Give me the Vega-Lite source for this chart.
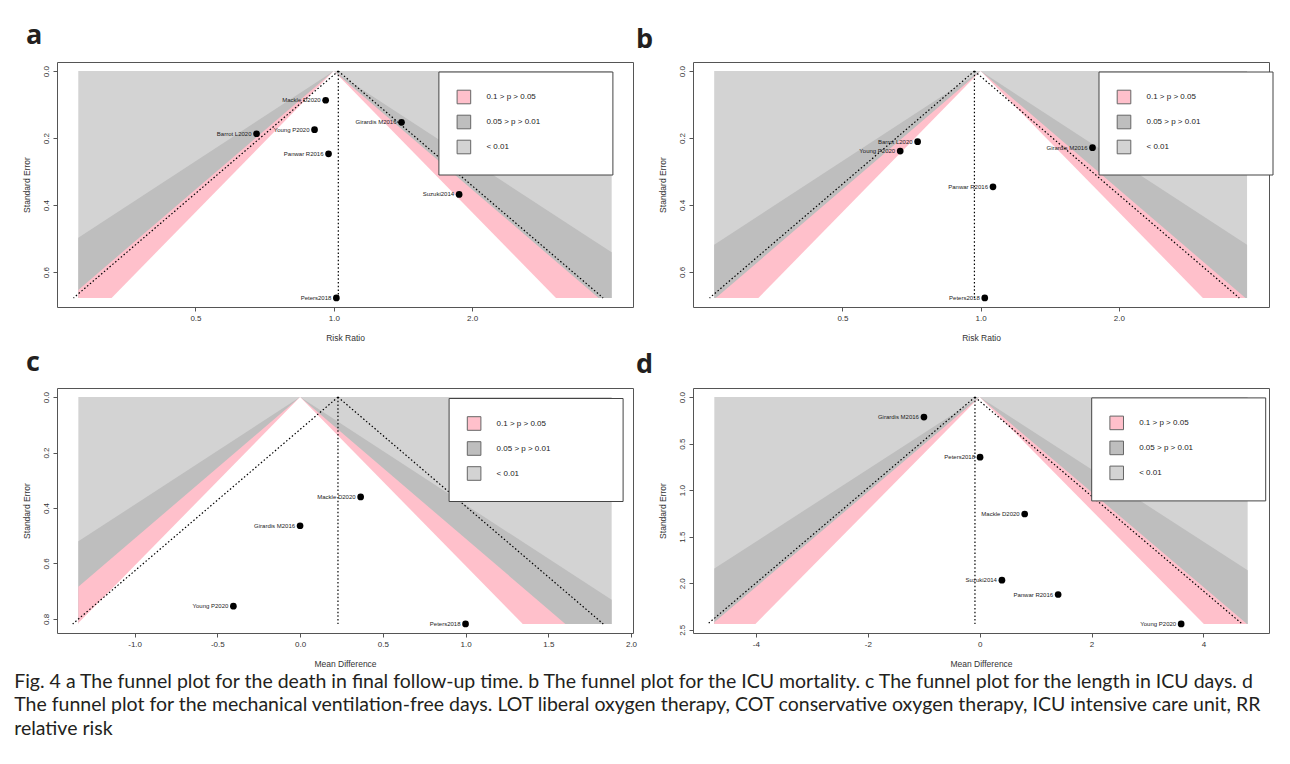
{
 "$schema": "https://vega.github.io/schema/vega-lite/v6.json",
 "padding": {"left": 14, "top": 21, "right": 10, "bottom": 10},
 "background": "white",
 "title": {"text": ["Fig. 4  a The funnel plot for the death in final follow-up time. b The funnel plot for the ICU mortality. c The funnel plot for the length in ICU days. d", "The funnel plot for the mechanical ventilation-free days. LOT liberal oxygen therapy, COT conservative oxygen therapy, ICU intensive care unit, RR", "relative risk"], "orient": "bottom", "anchor": "start", "frame": "bounds", "dx": -8, "offset": 4, "font": "Lato", "fontSize": 19.5, "fontWeight": "normal", "lineHeight": 23.5, "color": "#231f20", "baseline": "top"},
 "datasets": {
  "bands_a": [
   {"band": "< 0.01", "se": 0, "lo": 0.2779, "hi": 4.025},
   {"band": "< 0.01", "se": 0.677, "lo": 0.2779, "hi": 4.025},
   {"band": "0.05 > p > 0.01", "se": 0, "lo": 1, "hi": 1},
   {"band": "0.05 > p > 0.01", "se": 0.4971, "lo": 0.2779, "hi": 3.598},
   {"band": "0.05 > p > 0.01", "se": 0.5406, "lo": 0.2779, "hi": 4.025},
   {"band": "0.05 > p > 0.01", "se": 0.677, "lo": 0.2779, "hi": 4.025},
   {"band": "0.1 > p > 0.05", "se": 0, "lo": 1, "hi": 1},
   {"band": "0.1 > p > 0.05", "se": 0.6532, "lo": 0.2779, "hi": 3.598},
   {"band": "0.1 > p > 0.05", "se": 0.677, "lo": 0.2779, "hi": 3.769},
   {"band": "p > 0.1", "se": 0, "lo": 1, "hi": 1},
   {"band": "p > 0.1", "se": 0.677, "lo": 0.3284, "hi": 3.045}
  ],
  "lines_a": [
   {"x": 1.0229, "y": 0, "x2": 1.0229, "y2": 0.677},
   {"x": 1.0229, "y": 0, "x2": 0.2714, "y2": 0.677},
   {"x": 1.0229, "y": 0, "x2": 3.856, "y2": 0.677}
  ],
  "pts_a": [
   {"study": "Mackle D2020", "est": 0.960, "se": 0.087},
   {"study": "Girardis M2016", "est": 1.404, "se": 0.153},
   {"study": "Young P2020", "est": 0.908, "se": 0.175},
   {"study": "Barrot L2020", "est": 0.679, "se": 0.187},
   {"study": "Panwar R2016", "est": 0.974, "se": 0.247},
   {"study": "Suzuki2014", "est": 1.874, "se": 0.368},
   {"study": "Peters2018", "est": 1.013, "se": 0.677}
  ],
  "bands_b": [
   {"band": "< 0.01", "se": 0, "lo": 0.2627, "hi": 3.807},
   {"band": "< 0.01", "se": 0.678, "lo": 0.2627, "hi": 3.807},
   {"band": "0.05 > p > 0.01", "se": 0, "lo": 1, "hi": 1},
   {"band": "0.05 > p > 0.01", "se": 0.519, "lo": 0.2627, "hi": 3.807},
   {"band": "0.05 > p > 0.01", "se": 0.678, "lo": 0.2627, "hi": 3.807},
   {"band": "0.1 > p > 0.05", "se": 0, "lo": 1, "hi": 1},
   {"band": "0.1 > p > 0.05", "se": 0.678, "lo": 0.2648, "hi": 3.777},
   {"band": "p > 0.1", "se": 0, "lo": 1, "hi": 1},
   {"band": "p > 0.1", "se": 0.678, "lo": 0.3279, "hi": 3.05}
  ],
  "lines_b": [
   {"x": 0.9694, "y": 0, "x2": 0.9694, "y2": 0.678},
   {"x": 0.9694, "y": 0, "x2": 0.2567, "y2": 0.678},
   {"x": 0.9694, "y": 0, "x2": 3.661, "y2": 0.678}
  ],
  "pts_b": [
   {"study": "Barrot L2020", "est": 0.729, "se": 0.211},
   {"study": "Young P2020", "est": 0.668, "se": 0.239},
   {"study": "Panwar R2016", "est": 1.064, "se": 0.346},
   {"study": "Peters2018", "est": 1.021, "se": 0.678},
   {"study": "Girardis M2016", "est": 1.753, "se": 0.229}
  ],
  "bands_c": [
   {"band": "< 0.01", "se": 0, "lo": -1.34, "hi": 1.883},
   {"band": "< 0.01", "se": 0.818, "lo": -1.34, "hi": 1.883},
   {"band": "0.05 > p > 0.01", "se": 0, "lo": 0, "hi": 0},
   {"band": "0.05 > p > 0.01", "se": 0.5202, "lo": -1.34, "hi": 1.34},
   {"band": "0.05 > p > 0.01", "se": 0.731, "lo": -1.34, "hi": 1.883},
   {"band": "0.05 > p > 0.01", "se": 0.818, "lo": -1.34, "hi": 1.883},
   {"band": "0.1 > p > 0.05", "se": 0, "lo": 0, "hi": 0},
   {"band": "0.1 > p > 0.05", "se": 0.6837, "lo": -1.34, "hi": 1.34},
   {"band": "0.1 > p > 0.05", "se": 0.818, "lo": -1.34, "hi": 1.6033},
   {"band": "p > 0.1", "se": 0, "lo": 0, "hi": 0},
   {"band": "p > 0.1", "se": 0.8146, "lo": -1.34, "hi": 1.34},
   {"band": "p > 0.1", "se": 0.818, "lo": -1.34, "hi": 1.3455}
  ],
  "lines_c": [
   {"x": 0.229, "y": 0, "x2": 0.229, "y2": 0.818},
   {"x": 0.229, "y": 0, "x2": -1.3743, "y2": 0.818},
   {"x": 0.229, "y": 0, "x2": 1.8323, "y2": 0.818}
  ],
  "pts_c": [
   {"study": "Mackle D2020", "est": 0.366, "se": 0.36},
   {"study": "Girardis M2016", "est": 0.0, "se": 0.464},
   {"study": "Young P2020", "est": -0.403, "se": 0.754},
   {"study": "Peters2018", "est": 1.0, "se": 0.818}
  ],
  "bands_d": [
   {"band": "< 0.01", "se": 0, "lo": -4.743, "hi": 4.791},
   {"band": "< 0.01", "se": 2.437, "lo": -4.743, "hi": 4.791},
   {"band": "0.05 > p > 0.01", "se": 0, "lo": 0, "hi": 0},
   {"band": "0.05 > p > 0.01", "se": 1.8414, "lo": -4.743, "hi": 4.743},
   {"band": "0.05 > p > 0.01", "se": 1.86, "lo": -4.743, "hi": 4.791},
   {"band": "0.05 > p > 0.01", "se": 2.437, "lo": -4.743, "hi": 4.791},
   {"band": "0.1 > p > 0.05", "se": 0, "lo": 0, "hi": 0},
   {"band": "0.1 > p > 0.05", "se": 2.42, "lo": -4.743, "hi": 4.743},
   {"band": "0.1 > p > 0.05", "se": 2.437, "lo": -4.743, "hi": 4.7765},
   {"band": "p > 0.1", "se": 0, "lo": 0, "hi": 0},
   {"band": "p > 0.1", "se": 2.437, "lo": -4.0086, "hi": 4.0086}
  ],
  "lines_d": [
   {"x": -0.084, "y": 0, "x2": -0.084, "y2": 2.437},
   {"x": -0.084, "y": 0, "x2": -4.8605, "y2": 2.437},
   {"x": -0.084, "y": 0, "x2": 4.6925, "y2": 2.437}
  ],
  "pts_d": [
   {"study": "Girardis M2016", "est": -0.996, "se": 0.215},
   {"study": "Peters2018", "est": 0.007, "se": 0.646},
   {"study": "Mackle D2020", "est": 0.805, "se": 1.256},
   {"study": "Suzuki2014", "est": 0.398, "se": 1.967},
   {"study": "Panwar R2016", "est": 1.403, "se": 2.121},
   {"study": "Young P2020", "est": 3.602, "se": 2.437}
  ]
 },
 "columns": 2,
 "spacing": {"row": 81, "column": 60},
 "bounds": "flush",
 "resolve": {"scale": {"fill": "independent"}, "legend": {"fill": "independent"}},
 "concat": [
    {
     "width": 576, "height": 245,
     "title": {"text": "a", "anchor": "start", "frame": "group", "dx": -31, "offset": -8.5, "baseline": "alphabetic", "font": "Open Sans", "fontSize": 27, "fontWeight": "bold", "color": "#231f20"},
     "layer": [
      {"data": {"name": "bands_a"}, "transform": [{"filter": "datum.band === '< 0.01'"}], "mark": {"type": "area", "orient": "horizontal", "opacity": 1},
       "encoding": {
        "y": {"field": "se", "type": "quantitative", "scale": {"domain": [-0.0271, 0.7041], "reverse": true, "nice": false, "zero": false}, "axis": {"title": "Standard Error", "values": [0, 0.1, 0.2, 0.3, 0.4, 0.5, 0.6, 0.7], "format": ".1f"}},
        "x": {"field": "lo", "type": "quantitative", "scale": {"type": "log", "domain": [0.2498, 4.479], "nice": false}, "axis": {"title": "Risk Ratio", "values": [0.5, 1, 2], "format": ".1f"}},
        "x2": {"field": "hi"},
        "fill": {"field": "band", "type": "nominal", "scale": {"domain": ["0.1 > p > 0.05", "0.05 > p > 0.01", "< 0.01"], "range": ["#FFC0CB", "#BEBEBE", "#D3D3D3"]},
         "legend": {"orient": "none", "legendX": 381.4, "legendY": 9.5, "title": null, "symbolType": "square", "symbolSize": 185, "symbolStrokeColor": "#666", "symbolStrokeWidth": 1, "symbolOpacity": 1, "labelFontSize": 8, "labelOffset": 15, "rowPadding": 6, "padding": 18, "strokeColor": "#444", "fillColor": "white", "labelColor": "#222", "labelExpr": "datum.label + '\u00a0\u00a0\u00a0\u00a0\u00a0\u00a0\u00a0\u00a0\u00a0\u00a0\u00a0\u00a0\u00a0\u00a0\u00a0\u00a0\u00a0\u00a0\u00a0\u00a0\u00a0\u00a0\u00a0\u00a0\u200b'"}}
       }},
      {"data": {"name": "bands_a"}, "transform": [{"filter": "datum.band === '0.05 > p > 0.01'"}], "mark": {"type": "area", "orient": "horizontal", "opacity": 1},
       "encoding": {"y": {"field": "se", "type": "quantitative", "scale": {"domain": [-0.0271, 0.7041], "reverse": true, "nice": false, "zero": false}}, "x": {"field": "lo", "type": "quantitative", "scale": {"type": "log", "domain": [0.2498, 4.479], "nice": false}}, "x2": {"field": "hi"}, "fill": {"field": "band", "type": "nominal"}}},
      {"data": {"name": "bands_a"}, "transform": [{"filter": "datum.band === '0.1 > p > 0.05'"}], "mark": {"type": "area", "orient": "horizontal", "opacity": 1},
       "encoding": {"y": {"field": "se", "type": "quantitative", "scale": {"domain": [-0.0271, 0.7041], "reverse": true, "nice": false, "zero": false}}, "x": {"field": "lo", "type": "quantitative", "scale": {"type": "log", "domain": [0.2498, 4.479], "nice": false}}, "x2": {"field": "hi"}, "fill": {"field": "band", "type": "nominal"}}},
      {"data": {"name": "bands_a"}, "transform": [{"filter": "datum.band === 'p > 0.1'"}], "mark": {"type": "area", "orient": "horizontal", "opacity": 1, "fill": "white"},
       "encoding": {"y": {"field": "se", "type": "quantitative", "scale": {"domain": [-0.0271, 0.7041], "reverse": true, "nice": false, "zero": false}}, "x": {"field": "lo", "type": "quantitative", "scale": {"type": "log", "domain": [0.2498, 4.479], "nice": false}}, "x2": {"field": "hi"}}},
      {"data": {"name": "lines_a"}, "mark": {"type": "rule", "strokeDash": [1.5, 2.2], "strokeWidth": 1.2, "color": "black"},
       "encoding": {"x": {"field": "x", "type": "quantitative", "scale": {"type": "log", "domain": [0.2498, 4.479], "nice": false}}, "y": {"field": "y", "type": "quantitative", "scale": {"domain": [-0.0271, 0.7041], "reverse": true, "nice": false, "zero": false}}, "x2": {"field": "x2"}, "y2": {"field": "y2"}}},
      {"data": {"name": "pts_a"}, "mark": {"type": "circle", "size": 45, "color": "black", "opacity": 1},
       "encoding": {"x": {"field": "est", "type": "quantitative", "scale": {"type": "log", "domain": [0.2498, 4.479], "nice": false}}, "y": {"field": "se", "type": "quantitative", "scale": {"domain": [-0.0271, 0.7041], "reverse": true, "nice": false, "zero": false}}}},
      {"data": {"name": "pts_a"}, "mark": {"type": "text", "align": "right", "baseline": "middle", "dx": -5, "fontSize": 6, "color": "#222"},
       "encoding": {"x": {"field": "est", "type": "quantitative", "scale": {"type": "log", "domain": [0.2498, 4.479], "nice": false}}, "y": {"field": "se", "type": "quantitative", "scale": {"domain": [-0.0271, 0.7041], "reverse": true, "nice": false, "zero": false}}, "text": {"field": "study"}}}
     ]
    },
    {
     "width": 576, "height": 245,
     "title": {"text": "b", "anchor": "start", "frame": "group", "dx": -57, "offset": -12.5, "baseline": "alphabetic", "font": "Open Sans", "fontSize": 27, "fontWeight": "bold", "color": "#231f20"},
     "layer": [
      {"data": {"name": "bands_b"}, "transform": [{"filter": "datum.band === '< 0.01'"}], "mark": {"type": "area", "orient": "horizontal", "opacity": 1},
       "encoding": {
        "y": {"field": "se", "type": "quantitative", "scale": {"domain": [-0.0271, 0.7051], "reverse": true, "nice": false, "zero": false}, "axis": {"title": "Standard Error", "values": [0, 0.1, 0.2, 0.3, 0.4, 0.5, 0.6, 0.7], "format": ".1f"}},
        "x": {"field": "lo", "type": "quantitative", "scale": {"type": "log", "domain": [0.2362, 4.25], "nice": false}, "axis": {"title": "Risk Ratio", "values": [0.5, 1, 2], "format": ".1f"}},
        "x2": {"field": "hi"},
        "fill": {"field": "band", "type": "nominal", "scale": {"domain": ["0.1 > p > 0.05", "0.05 > p > 0.01", "< 0.01"], "range": ["#FFC0CB", "#BEBEBE", "#D3D3D3"]},
         "legend": {"orient": "none", "legendX": 405.5, "legendY": 9.5, "title": null, "symbolType": "square", "symbolSize": 185, "symbolStrokeColor": "#666", "symbolStrokeWidth": 1, "symbolOpacity": 1, "labelFontSize": 8, "labelOffset": 15, "rowPadding": 6, "padding": 18, "strokeColor": "#444", "fillColor": "white", "labelColor": "#222", "labelExpr": "datum.label + '\u00a0\u00a0\u00a0\u00a0\u00a0\u00a0\u00a0\u00a0\u00a0\u00a0\u00a0\u00a0\u00a0\u00a0\u00a0\u00a0\u00a0\u00a0\u00a0\u00a0\u00a0\u00a0\u00a0\u00a0\u200b'"}}
       }},
      {"data": {"name": "bands_b"}, "transform": [{"filter": "datum.band === '0.05 > p > 0.01'"}], "mark": {"type": "area", "orient": "horizontal", "opacity": 1},
       "encoding": {"y": {"field": "se", "type": "quantitative", "scale": {"domain": [-0.0271, 0.7051], "reverse": true, "nice": false, "zero": false}}, "x": {"field": "lo", "type": "quantitative", "scale": {"type": "log", "domain": [0.2362, 4.25], "nice": false}}, "x2": {"field": "hi"}, "fill": {"field": "band", "type": "nominal"}}},
      {"data": {"name": "bands_b"}, "transform": [{"filter": "datum.band === '0.1 > p > 0.05'"}], "mark": {"type": "area", "orient": "horizontal", "opacity": 1},
       "encoding": {"y": {"field": "se", "type": "quantitative", "scale": {"domain": [-0.0271, 0.7051], "reverse": true, "nice": false, "zero": false}}, "x": {"field": "lo", "type": "quantitative", "scale": {"type": "log", "domain": [0.2362, 4.25], "nice": false}}, "x2": {"field": "hi"}, "fill": {"field": "band", "type": "nominal"}}},
      {"data": {"name": "bands_b"}, "transform": [{"filter": "datum.band === 'p > 0.1'"}], "mark": {"type": "area", "orient": "horizontal", "opacity": 1, "fill": "white"},
       "encoding": {"y": {"field": "se", "type": "quantitative", "scale": {"domain": [-0.0271, 0.7051], "reverse": true, "nice": false, "zero": false}}, "x": {"field": "lo", "type": "quantitative", "scale": {"type": "log", "domain": [0.2362, 4.25], "nice": false}}, "x2": {"field": "hi"}}},
      {"data": {"name": "lines_b"}, "mark": {"type": "rule", "strokeDash": [1.5, 2.2], "strokeWidth": 1.2, "color": "black"},
       "encoding": {"x": {"field": "x", "type": "quantitative", "scale": {"type": "log", "domain": [0.2362, 4.25], "nice": false}}, "y": {"field": "y", "type": "quantitative", "scale": {"domain": [-0.0271, 0.7051], "reverse": true, "nice": false, "zero": false}}, "x2": {"field": "x2"}, "y2": {"field": "y2"}}},
      {"data": {"name": "pts_b"}, "mark": {"type": "circle", "size": 45, "color": "black", "opacity": 1},
       "encoding": {"x": {"field": "est", "type": "quantitative", "scale": {"type": "log", "domain": [0.2362, 4.25], "nice": false}}, "y": {"field": "se", "type": "quantitative", "scale": {"domain": [-0.0271, 0.7051], "reverse": true, "nice": false, "zero": false}}}},
      {"data": {"name": "pts_b"}, "mark": {"type": "text", "align": "right", "baseline": "middle", "dx": -5, "fontSize": 6, "color": "#222"},
       "encoding": {"x": {"field": "est", "type": "quantitative", "scale": {"type": "log", "domain": [0.2362, 4.25], "nice": false}}, "y": {"field": "se", "type": "quantitative", "scale": {"domain": [-0.0271, 0.7051], "reverse": true, "nice": false, "zero": false}}, "text": {"field": "study"}}}
     ]
    },
    {
     "width": 576, "height": 245,
     "title": {"text": "c", "anchor": "start", "frame": "group", "dx": -31, "offset": -9.7, "baseline": "alphabetic", "font": "Open Sans", "fontSize": 27, "fontWeight": "bold", "color": "#231f20"},
     "layer": [
      {"data": {"name": "bands_c"}, "transform": [{"filter": "datum.band === '< 0.01'"}], "mark": {"type": "area", "orient": "horizontal", "opacity": 1},
       "encoding": {
        "y": {"field": "se", "type": "quantitative", "scale": {"domain": [-0.0327, 0.8507], "reverse": true, "nice": false, "zero": false}, "axis": {"title": "Standard Error", "values": [0, 0.2, 0.4, 0.6, 0.8], "format": ".1f"}},
        "x": {"field": "lo", "type": "quantitative", "scale": {"domain": [-1.469, 2.012], "nice": false, "zero": false}, "axis": {"title": "Mean Difference", "values": [-1, -0.5, 0, 0.5, 1, 1.5, 2], "format": ".1f", "labelExpr": "replace(datum.label, '\u2212', '-')"}},
        "x2": {"field": "hi"},
        "fill": {"field": "band", "type": "nominal", "scale": {"domain": ["0.1 > p > 0.05", "0.05 > p > 0.01", "< 0.01"], "range": ["#FFC0CB", "#BEBEBE", "#D3D3D3"]},
         "legend": {"orient": "none", "legendX": 391.6, "legendY": 10, "title": null, "symbolType": "square", "symbolSize": 185, "symbolStrokeColor": "#666", "symbolStrokeWidth": 1, "symbolOpacity": 1, "labelFontSize": 8, "labelOffset": 15, "rowPadding": 6, "padding": 18, "strokeColor": "#444", "fillColor": "white", "labelColor": "#222", "labelExpr": "datum.label + '\u00a0\u00a0\u00a0\u00a0\u00a0\u00a0\u00a0\u00a0\u00a0\u00a0\u00a0\u00a0\u00a0\u00a0\u00a0\u00a0\u00a0\u00a0\u00a0\u00a0\u00a0\u00a0\u00a0\u00a0\u200b'"}}
       }},
      {"data": {"name": "bands_c"}, "transform": [{"filter": "datum.band === '0.05 > p > 0.01'"}], "mark": {"type": "area", "orient": "horizontal", "opacity": 1},
       "encoding": {"y": {"field": "se", "type": "quantitative", "scale": {"domain": [-0.0327, 0.8507], "reverse": true, "nice": false, "zero": false}}, "x": {"field": "lo", "type": "quantitative", "scale": {"domain": [-1.469, 2.012], "nice": false, "zero": false}}, "x2": {"field": "hi"}, "fill": {"field": "band", "type": "nominal"}}},
      {"data": {"name": "bands_c"}, "transform": [{"filter": "datum.band === '0.1 > p > 0.05'"}], "mark": {"type": "area", "orient": "horizontal", "opacity": 1},
       "encoding": {"y": {"field": "se", "type": "quantitative", "scale": {"domain": [-0.0327, 0.8507], "reverse": true, "nice": false, "zero": false}}, "x": {"field": "lo", "type": "quantitative", "scale": {"domain": [-1.469, 2.012], "nice": false, "zero": false}}, "x2": {"field": "hi"}, "fill": {"field": "band", "type": "nominal"}}},
      {"data": {"name": "bands_c"}, "transform": [{"filter": "datum.band === 'p > 0.1'"}], "mark": {"type": "area", "orient": "horizontal", "opacity": 1, "fill": "white"},
       "encoding": {"y": {"field": "se", "type": "quantitative", "scale": {"domain": [-0.0327, 0.8507], "reverse": true, "nice": false, "zero": false}}, "x": {"field": "lo", "type": "quantitative", "scale": {"domain": [-1.469, 2.012], "nice": false, "zero": false}}, "x2": {"field": "hi"}}},
      {"data": {"name": "lines_c"}, "mark": {"type": "rule", "strokeDash": [1.5, 2.2], "strokeWidth": 1.2, "color": "black"},
       "encoding": {"x": {"field": "x", "type": "quantitative", "scale": {"domain": [-1.469, 2.012], "nice": false, "zero": false}}, "y": {"field": "y", "type": "quantitative", "scale": {"domain": [-0.0327, 0.8507], "reverse": true, "nice": false, "zero": false}}, "x2": {"field": "x2"}, "y2": {"field": "y2"}}},
      {"data": {"name": "pts_c"}, "mark": {"type": "circle", "size": 45, "color": "black", "opacity": 1},
       "encoding": {"x": {"field": "est", "type": "quantitative", "scale": {"domain": [-1.469, 2.012], "nice": false, "zero": false}}, "y": {"field": "se", "type": "quantitative", "scale": {"domain": [-0.0327, 0.8507], "reverse": true, "nice": false, "zero": false}}}},
      {"data": {"name": "pts_c"}, "mark": {"type": "text", "align": "right", "baseline": "middle", "dx": -5, "fontSize": 6, "color": "#222"},
       "encoding": {"x": {"field": "est", "type": "quantitative", "scale": {"domain": [-1.469, 2.012], "nice": false, "zero": false}}, "y": {"field": "se", "type": "quantitative", "scale": {"domain": [-0.0327, 0.8507], "reverse": true, "nice": false, "zero": false}}, "text": {"field": "study"}}}
     ]
    },
    {
     "width": 576, "height": 245,
     "title": {"text": "d", "anchor": "start", "frame": "group", "dx": -57, "offset": -12, "baseline": "alphabetic", "font": "Open Sans", "fontSize": 27, "fontWeight": "bold", "color": "#231f20"},
     "layer": [
      {"data": {"name": "bands_d"}, "transform": [{"filter": "datum.band === '< 0.01'"}], "mark": {"type": "area", "orient": "horizontal", "opacity": 1},
       "encoding": {
        "y": {"field": "se", "type": "quantitative", "scale": {"domain": [-0.0975, 2.5345], "reverse": true, "nice": false, "zero": false}, "axis": {"title": "Standard Error", "values": [0, 0.5, 1, 1.5, 2, 2.5], "format": ".1f"}},
        "x": {"field": "lo", "type": "quantitative", "scale": {"domain": [-5.1244, 5.1724], "nice": false, "zero": false}, "axis": {"title": "Mean Difference", "values": [-4, -2, 0, 2, 4], "format": "d", "labelExpr": "replace(datum.label, '\u2212', '-')"}},
        "x2": {"field": "hi"},
        "fill": {"field": "band", "type": "nominal", "scale": {"domain": ["0.1 > p > 0.05", "0.05 > p > 0.01", "< 0.01"], "range": ["#FFC0CB", "#BEBEBE", "#D3D3D3"]},
         "legend": {"orient": "none", "legendX": 398.2, "legendY": 9.4, "title": null, "symbolType": "square", "symbolSize": 185, "symbolStrokeColor": "#666", "symbolStrokeWidth": 1, "symbolOpacity": 1, "labelFontSize": 8, "labelOffset": 15, "rowPadding": 6, "padding": 18, "strokeColor": "#444", "fillColor": "white", "labelColor": "#222", "labelExpr": "datum.label + '\u00a0\u00a0\u00a0\u00a0\u00a0\u00a0\u00a0\u00a0\u00a0\u00a0\u00a0\u00a0\u00a0\u00a0\u00a0\u00a0\u00a0\u00a0\u00a0\u00a0\u00a0\u00a0\u00a0\u00a0\u200b'"}}
       }},
      {"data": {"name": "bands_d"}, "transform": [{"filter": "datum.band === '0.05 > p > 0.01'"}], "mark": {"type": "area", "orient": "horizontal", "opacity": 1},
       "encoding": {"y": {"field": "se", "type": "quantitative", "scale": {"domain": [-0.0975, 2.5345], "reverse": true, "nice": false, "zero": false}}, "x": {"field": "lo", "type": "quantitative", "scale": {"domain": [-5.1244, 5.1724], "nice": false, "zero": false}}, "x2": {"field": "hi"}, "fill": {"field": "band", "type": "nominal"}}},
      {"data": {"name": "bands_d"}, "transform": [{"filter": "datum.band === '0.1 > p > 0.05'"}], "mark": {"type": "area", "orient": "horizontal", "opacity": 1},
       "encoding": {"y": {"field": "se", "type": "quantitative", "scale": {"domain": [-0.0975, 2.5345], "reverse": true, "nice": false, "zero": false}}, "x": {"field": "lo", "type": "quantitative", "scale": {"domain": [-5.1244, 5.1724], "nice": false, "zero": false}}, "x2": {"field": "hi"}, "fill": {"field": "band", "type": "nominal"}}},
      {"data": {"name": "bands_d"}, "transform": [{"filter": "datum.band === 'p > 0.1'"}], "mark": {"type": "area", "orient": "horizontal", "opacity": 1, "fill": "white"},
       "encoding": {"y": {"field": "se", "type": "quantitative", "scale": {"domain": [-0.0975, 2.5345], "reverse": true, "nice": false, "zero": false}}, "x": {"field": "lo", "type": "quantitative", "scale": {"domain": [-5.1244, 5.1724], "nice": false, "zero": false}}, "x2": {"field": "hi"}}},
      {"data": {"name": "lines_d"}, "mark": {"type": "rule", "strokeDash": [1.5, 2.2], "strokeWidth": 1.2, "color": "black"},
       "encoding": {"x": {"field": "x", "type": "quantitative", "scale": {"domain": [-5.1244, 5.1724], "nice": false, "zero": false}}, "y": {"field": "y", "type": "quantitative", "scale": {"domain": [-0.0975, 2.5345], "reverse": true, "nice": false, "zero": false}}, "x2": {"field": "x2"}, "y2": {"field": "y2"}}},
      {"data": {"name": "pts_d"}, "mark": {"type": "circle", "size": 45, "color": "black", "opacity": 1},
       "encoding": {"x": {"field": "est", "type": "quantitative", "scale": {"domain": [-5.1244, 5.1724], "nice": false, "zero": false}}, "y": {"field": "se", "type": "quantitative", "scale": {"domain": [-0.0975, 2.5345], "reverse": true, "nice": false, "zero": false}}}},
      {"data": {"name": "pts_d"}, "mark": {"type": "text", "align": "right", "baseline": "middle", "dx": -5, "fontSize": 6, "color": "#222"},
       "encoding": {"x": {"field": "est", "type": "quantitative", "scale": {"domain": [-5.1244, 5.1724], "nice": false, "zero": false}}, "y": {"field": "se", "type": "quantitative", "scale": {"domain": [-0.0975, 2.5345], "reverse": true, "nice": false, "zero": false}}, "text": {"field": "study"}}}
     ]
    }
 ],
 "config": {
  "font": "Liberation Sans, Arial, sans-serif",
  "view": {"stroke": "#555", "strokeWidth": 1, "fill": "white"},
  "axis": {"labelFontSize": 8, "titleFontSize": 8.5, "titleFontWeight": "normal", "tickSize": 4, "domain": false, "grid": false, "labelColor": "#333", "titleColor": "#333", "tickColor": "#555", "labelFlush": false, "labelOverlap": false},
  "axisX": {"labelPadding": 3.3, "titlePadding": 11.2},
  "axisY": {"labelAngle": 270, "labelAlign": "center", "labelBaseline": "bottom", "labelPadding": 2.5, "titlePadding": 10.8}
 }
}
